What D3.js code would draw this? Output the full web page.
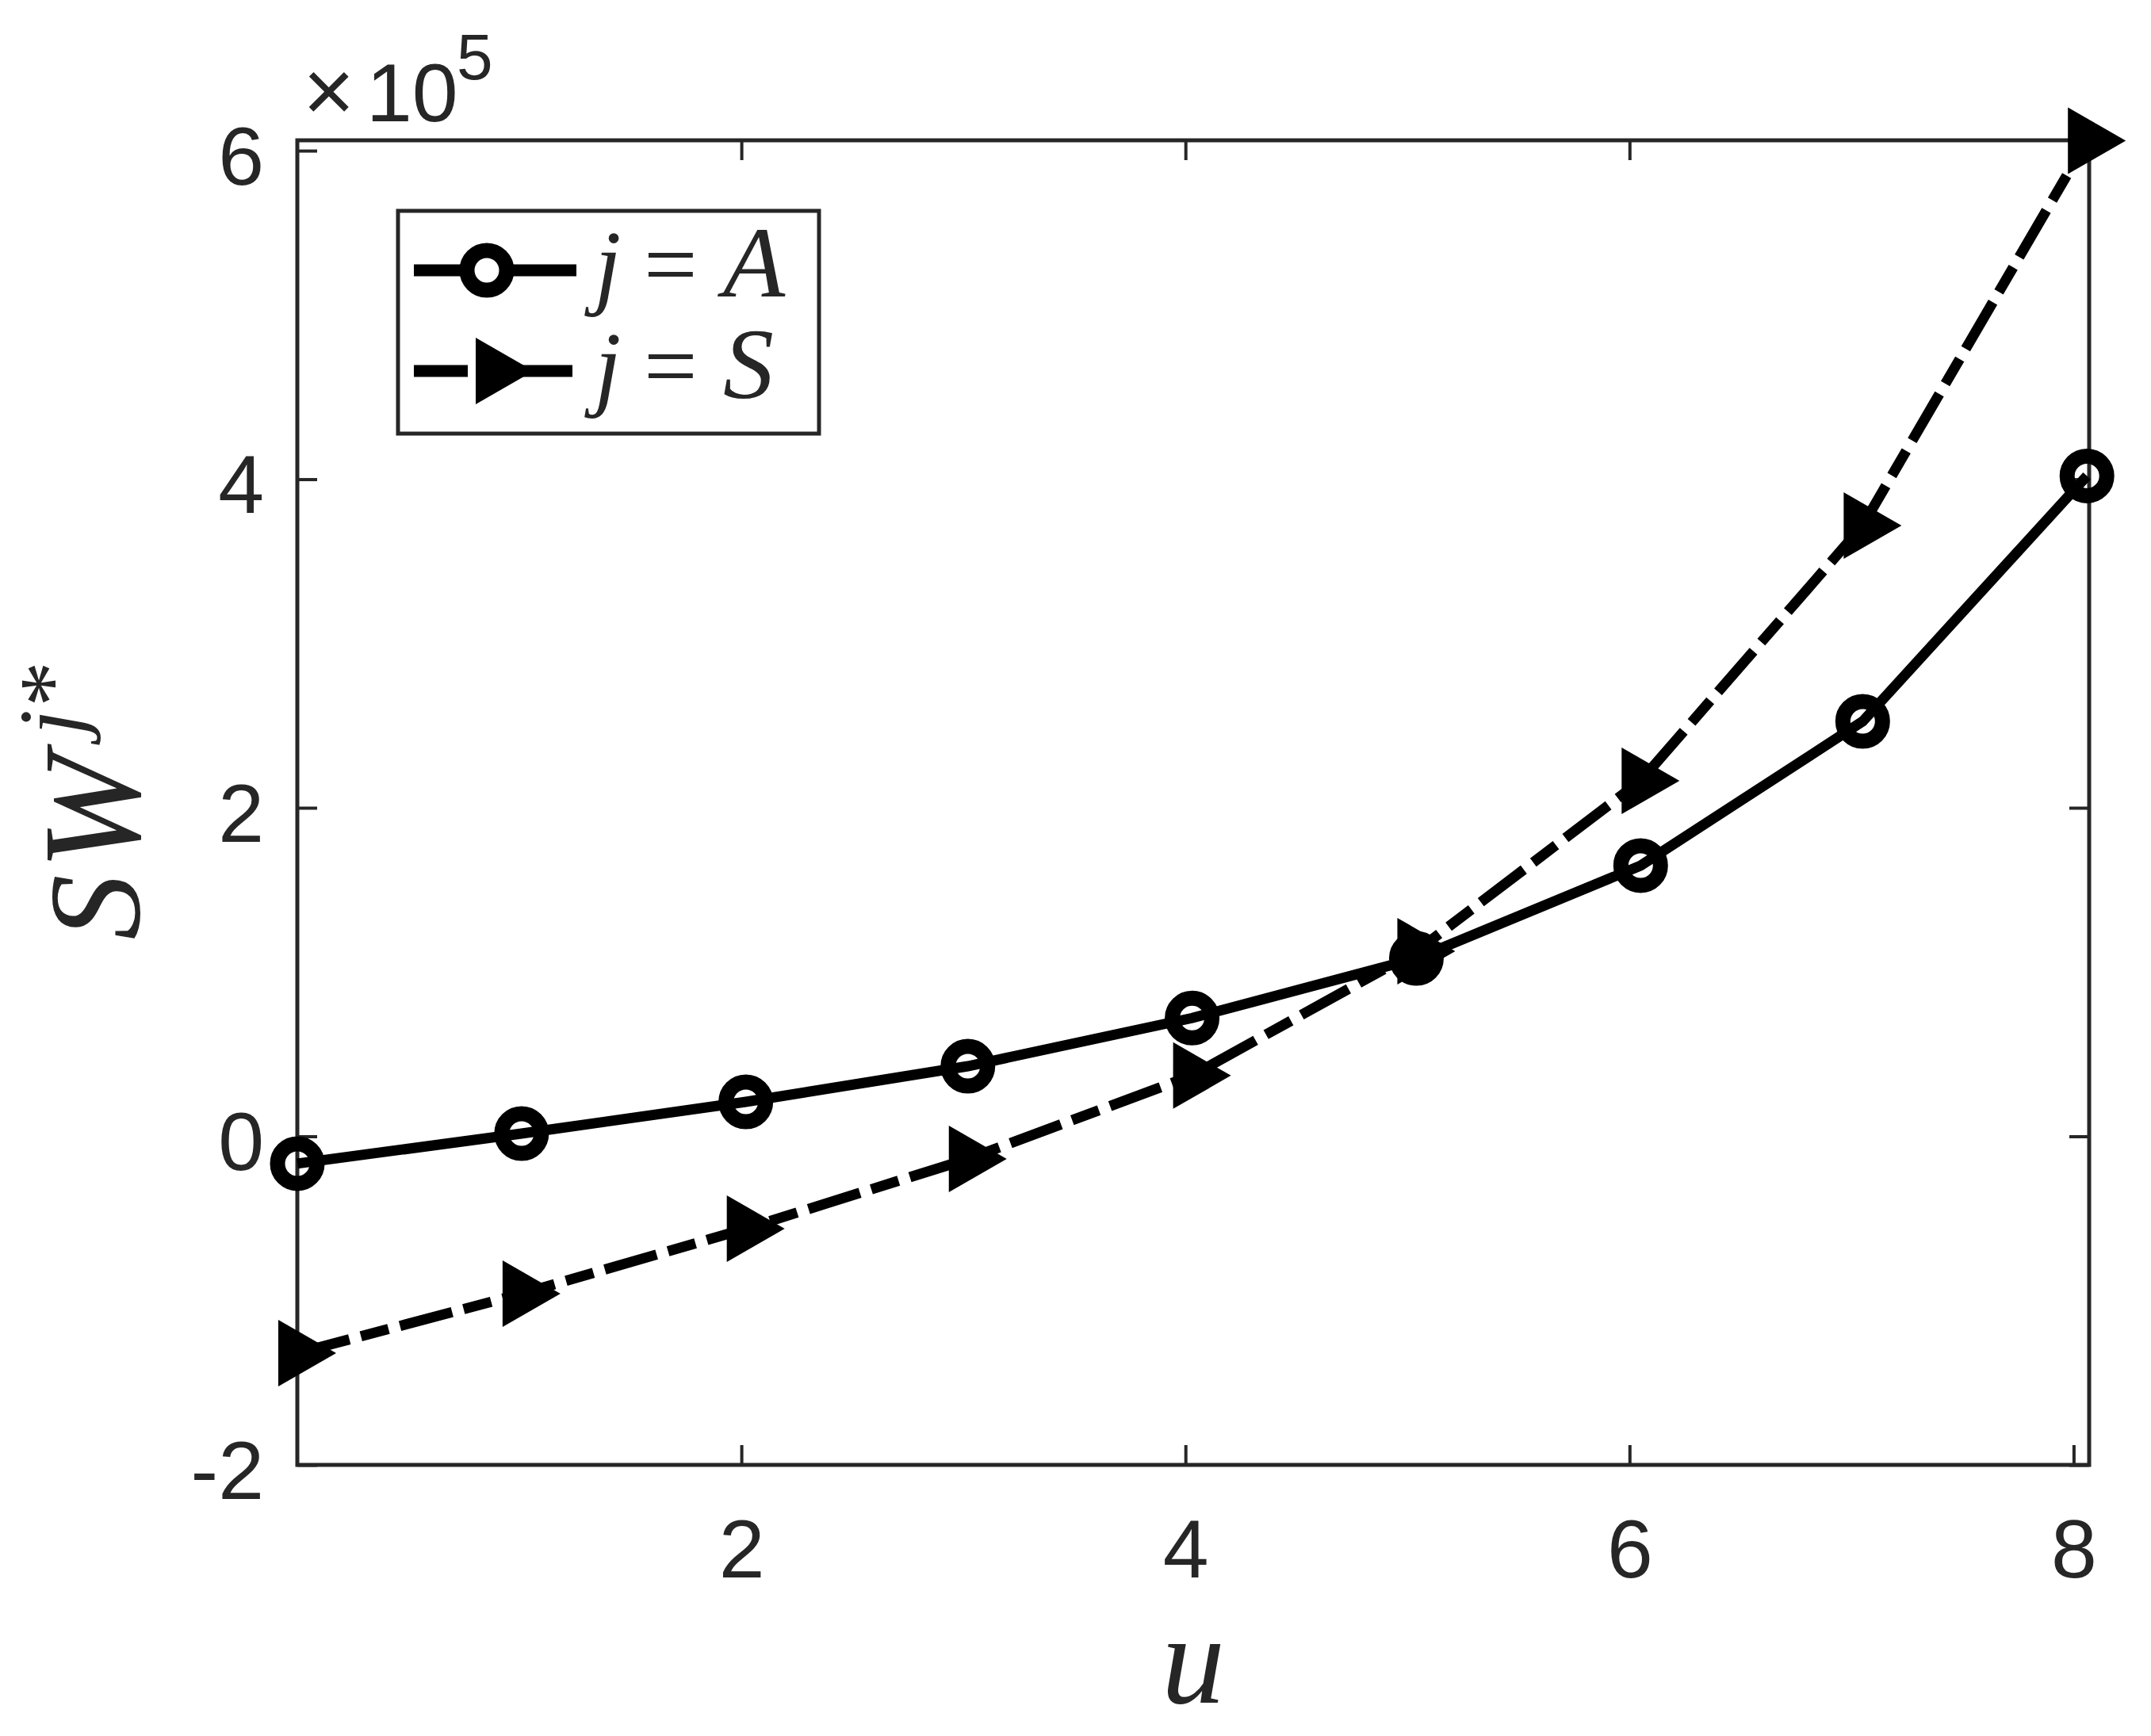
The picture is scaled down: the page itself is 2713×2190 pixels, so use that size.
<!DOCTYPE html>
<html>
<head>
<meta charset="utf-8">
<script src="https://cdn.jsdelivr.net/npm/d3@7"></script>
<style>
  body { margin: 0; background: #fff; }
  text { fill: #262626; }
</style>
</head>
<body>
<svg id="chart" width="2713" height="2190"></svg>
<script>
"use strict";

// u values (markers sit slightly right of the integer ticks)
var uVals = [0, 1.01, 2.02, 3.02, 4.03, 5.04, 6.05, 7.05, 8.06];
// SW^{j*} in units of 1e5
var swA = [-0.166, 0.017, 0.21, 0.427, 0.72, 1.083, 1.648, 2.526, 4.02];
var swS = [-1.32, -0.958, -0.562, -0.138, 0.37, 1.127, 2.164, 3.718, 6.06];
var xTicks = [2, 4, 6, 8];
var yTicks = [-2, 0, 2, 4, 6];

var svg = d3.select("#chart");
svg.append("rect").attr("width", 2713).attr("height", 2190).attr("fill", "#fff");

var x = d3.scaleLinear().domain([0, 8.07]).range([375, 2635]);
var y = d3.scaleLinear().domain([-2, 6.063]).range([1848, 177]);

var axisColor = "#262626";
var tickFont = "'Liberation Sans', Arial, sans-serif";
var serif = "'Liberation Serif', 'Times New Roman', serif";

function styleAxis(g) {
  g.select(".domain").remove();
  g.selectAll(".tick line").attr("stroke", axisColor).attr("stroke-width", 4);
  g.selectAll(".tick text")
    .attr("font-family", tickFont)
    .attr("font-size", 104)
    .attr("fill", axisColor);
}

var xAxis = svg.append("g").attr("transform", "translate(0,1848)")
  .call(d3.axisBottom(x).tickValues(xTicks).tickSizeInner(-25).tickSizeOuter(0).tickPadding(0));
styleAxis(xAxis);
xAxis.selectAll(".tick text").attr("y", 142).attr("dy", null);

var xTop = svg.append("g").attr("transform", "translate(0,177)")
  .call(d3.axisTop(x).tickValues(xTicks).tickSizeInner(-25).tickSizeOuter(0).tickFormat(""));
styleAxis(xTop);

var yAxis = svg.append("g").attr("transform", "translate(375,0)")
  .call(d3.axisLeft(y).tickValues(yTicks).tickSizeInner(-25).tickSizeOuter(0).tickPadding(0)
        .tickFormat(function(d) { return d < 0 ? "-" + Math.abs(d) : d; }));
styleAxis(yAxis);
yAxis.selectAll(".tick text").attr("x", -42).attr("dy", null).attr("y", 42);

var yRight = svg.append("g").attr("transform", "translate(2635,0)")
  .call(d3.axisRight(y).tickValues(yTicks).tickSizeInner(-25).tickSizeOuter(0).tickFormat(""));
styleAxis(yRight);

svg.append("rect")
  .attr("x", 375).attr("y", 177).attr("width", 2635 - 375).attr("height", 1848 - 177)
  .attr("fill", "none").attr("stroke", axisColor).attr("stroke-width", 5);

// exponent label
var expo = svg.append("text").attr("font-family", tickFont).attr("font-size", 104).attr("fill", axisColor);
expo.append("tspan").attr("x", 382).attr("y", 153).attr("font-size", 112).text("\u00d7");
expo.append("tspan").attr("x", 462).attr("y", 153).text("10");
expo.append("tspan").attr("x", 576).attr("y", 100).attr("font-size", 82).text("5");

// axis titles
svg.append("text")
  .attr("x", 1505).attr("y", 2148)
  .attr("text-anchor", "middle")
  .attr("font-family", serif).attr("font-style", "italic").attr("font-size", 160)
  .attr("fill", "#000")
  .text("u");

var yl = svg.append("text")
  .attr("transform", "translate(175,1010) rotate(-90)")
  .attr("text-anchor", "middle")
  .attr("font-family", serif).attr("font-size", 165)
  .attr("fill", "#000");
yl.append("tspan").attr("font-style", "italic").text("S");
yl.append("tspan").attr("font-style", "italic").attr("dx", 6).attr("font-size", 175).text("W");
yl.append("tspan").attr("font-style", "italic").attr("font-size", 115).attr("dx", 24).attr("dy", -72).text("j");
yl.append("tspan").attr("font-size", 115).attr("dx", 4).text("*");

// lines
var line = d3.line().x(function(d) { return x(d[0]); }).y(function(d) { return y(d[1]); });
var dataA = uVals.map(function(u, i) { return [u, swA[i]]; });
var dataS = uVals.map(function(u, i) { return [u, swS[i]]; });

svg.append("path").datum(dataA)
  .attr("d", line).attr("fill", "none").attr("stroke", "#000").attr("stroke-width", 13);

svg.append("path").datum(dataS)
  .attr("d", line).attr("fill", "none").attr("stroke", "#000").attr("stroke-width", 13)
  .attr("stroke-dasharray", "68,15,36,15");

// markers
function triPath(cx, cy) {
  // right-pointing triangle, centroid at the point
  return "M" + (cx - 24) + "," + (cy - 42) + "L" + (cx + 49) + "," + cy + "L" + (cx - 24) + "," + (cy + 42) + "Z";
}

svg.selectAll("circle.ma").data(dataA).enter().append("circle")
  .attr("class", "ma")
  .attr("cx", function(d) { return x(d[0]); })
  .attr("cy", function(d) { return y(d[1]); })
  .attr("r", 25)
  .attr("fill", "none").attr("stroke", "#000").attr("stroke-width", 19);

svg.selectAll("path.ms").data(dataS).enter().append("path")
  .attr("class", "ms")
  .attr("d", function(d) { return triPath(x(d[0]), y(d[1])); })
  .attr("fill", "#000");

// legend
var lg = svg.append("g");
lg.append("rect").attr("x", 502).attr("y", 266).attr("width", 531).attr("height", 281)
  .attr("fill", "#fff").attr("stroke", axisColor).attr("stroke-width", 5);

lg.append("line").attr("x1", 522).attr("x2", 727).attr("y1", 341).attr("y2", 341)
  .attr("stroke", "#000").attr("stroke-width", 15);
lg.append("circle").attr("cx", 614).attr("cy", 341).attr("r", 25)
  .attr("fill", "#fff").attr("stroke", "#000").attr("stroke-width", 19);

lg.append("line").attr("x1", 522).attr("x2", 590).attr("y1", 468).attr("y2", 468)
  .attr("stroke", "#000").attr("stroke-width", 15);
lg.append("line").attr("x1", 650).attr("x2", 722).attr("y1", 468).attr("y2", 468)
  .attr("stroke", "#000").attr("stroke-width", 15);
lg.append("path").attr("d", triPath(624, 468)).attr("fill", "#000");

var legendLabels = ["A", "S"];
var legendY = [374, 502];
legendLabels.forEach(function(lbl, i) {
  var t = lg.append("text").attr("font-family", serif).attr("font-size", 120).attr("fill", "#000");
  t.append("tspan").attr("x", 750).attr("y", legendY[i]).attr("font-style", "italic").text("j");
  t.append("tspan").attr("x", 812).attr("y", legendY[i]).text("=");
  t.append("tspan").attr("x", 912).attr("y", legendY[i]).attr("font-style", "italic").attr("font-size", 128).text(lbl);
});
</script>
</body>
</html>
